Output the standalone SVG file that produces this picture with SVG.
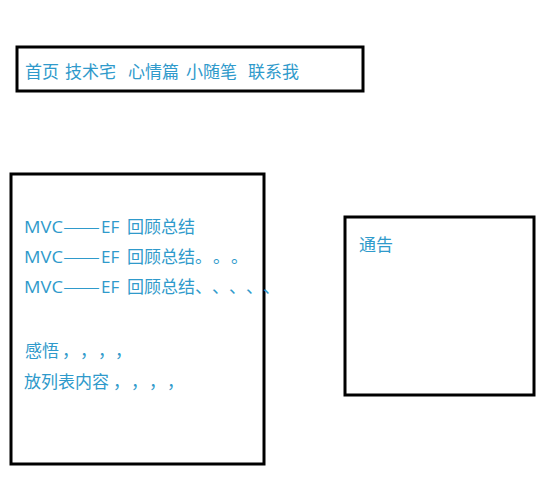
<svg xmlns="http://www.w3.org/2000/svg" width="554" height="491" viewBox="0 0 554 491">
<style>
.box{fill:#ffffff;stroke:#000000;stroke-width:3}
.t{font-family:"Noto Sans CJK SC","Microsoft YaHei",sans-serif;font-size:17px;fill:#2f9acb}
.l{font-family:"Open Sans","Noto Sans",sans-serif}
</style>
<rect width="554" height="491" fill="#ffffff"/>
<g id="nav">
<rect class="box" x="17" y="47" width="346" height="44"/>
<text class="t"><tspan x="25" y="78">首页</tspan><tspan x="65" y="78">技术宅</tspan><tspan x="128" y="78">心情篇</tspan><tspan x="186" y="78">小随笔</tspan><tspan x="248" y="78">联系我</tspan></text>
</g>
<g id="content">
<rect class="box" x="11" y="174" width="253" height="290"/>
<text class="t" y="233"><tspan x="24" class="l" textLength="39" lengthAdjust="spacingAndGlyphs">MVC</tspan><tspan x="63" textLength="37" lengthAdjust="spacingAndGlyphs">——</tspan><tspan x="101" class="l">EF</tspan> <tspan x="127 144 161 178">回顾总结</tspan></text>
<text class="t" y="263"><tspan x="24" class="l" textLength="39" lengthAdjust="spacingAndGlyphs">MVC</tspan><tspan x="63" textLength="37" lengthAdjust="spacingAndGlyphs">——</tspan><tspan x="101" class="l">EF</tspan> <tspan x="127 144 161 178">回顾总结</tspan><tspan x="195 213 231">。。。</tspan></text>
<text class="t" y="293"><tspan x="24" class="l" textLength="39" lengthAdjust="spacingAndGlyphs">MVC</tspan><tspan x="63" textLength="37" lengthAdjust="spacingAndGlyphs">——</tspan><tspan x="101" class="l">EF</tspan> <tspan x="127 144 161 178">回顾总结</tspan><tspan x="195 212 229 246 263">、、、、、</tspan></text>
<text class="t" y="357"><tspan x="25 42">感悟</tspan><tspan x="62 80 98 115">，，，，</tspan></text>
<text class="t" y="388"><tspan x="24 41 58 75 92">放列表内容</tspan><tspan x="113 131 149 167">，，，，</tspan></text>
</g>
<g id="notice">
<rect class="box" x="345" y="217" width="189" height="178"/>
<text class="t" x="359" y="251">通告</text>
</g>
<g id="connectors"></g>
</svg>
